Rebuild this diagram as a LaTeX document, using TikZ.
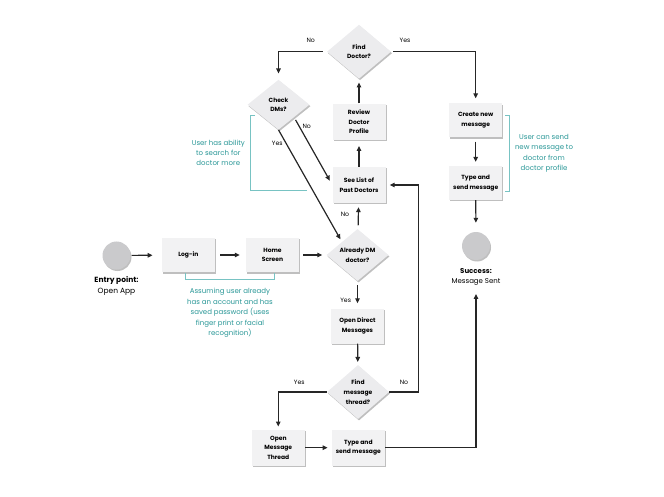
\documentclass[tikz,border=0pt]{standalone}
\usepackage{fontspec}
\setmainfont{Poppins}
\usetikzlibrary{shapes.geometric,shadows,arrows.meta}
\definecolor{tealtxt}{RGB}{40,150,150}
\definecolor{tealln}{RGB}{120,195,195}
\definecolor{boxfill}{RGB}{242,242,243}
\definecolor{diafill}{RGB}{236,236,238}
\definecolor{circfill}{RGB}{202,202,204}
\tikzset{
  shd/.style={drop shadow={shadow xshift=1pt,shadow yshift=-1.5pt,opacity=0.25,fill=black}},
  stepbox/.style={rectangle,fill=boxfill,shd,minimum width=53pt,minimum height=35pt,inner sep=1pt,align=center,font=\fontsize{6}{9.7}\selectfont\bfseries},
  decide/.style={diamond,fill=diafill,shd,minimum width=62pt,minimum height=52pt,inner sep=0pt,align=center,font=\fontsize{6}{9.7}\selectfont\bfseries},
  term/.style={circle,fill=circfill,shd,minimum size=28pt,inner sep=0pt},
  flow/.style={-{Triangle[length=5pt,width=4.5pt]},line width=1.2pt,black!85},
  lbl/.style={font=\fontsize{6.2}{8}\selectfont,inner sep=0pt},
  note/.style={text=tealtxt,align=center,inner sep=0pt},
  brk/.style={draw=tealln,line width=0.8pt}
}
\begin{document}
\begin{tikzpicture}[x=1pt,y=-1pt]
\useasboundingbox (0,0) rectangle (664,497);
% nodes
\node[term] (entry) at (116.5,255.5) {};
\node[align=center,inner sep=0pt,font=\fontsize{7.5}{10.7}\selectfont] (entrylbl) at (116.5,286) {\textbf{Entry point:}\\Open App};
\node[stepbox,minimum height=34pt] (login) at (188.3,255) {Log-in};
\node[stepbox,minimum height=34pt] (home) at (272.5,255) {Home\\Screen};
\node[decide] (already) at (357.5,255) {Already DM\\doctor?};
\node[stepbox,minimum height=36pt] (seelist) at (359,185) {See List of\\Past Doctors};
\node[stepbox,minimum height=36pt] (review) at (359,121.7) {Review\\Doctor\\Profile};
\node[decide,minimum width=64pt,minimum height=54pt] (finddoc) at (359,51.7) {Find\\Doctor?};
\node[decide,minimum height=50pt] (checkdm) at (278.5,104.7) {Check\\DMs?};
\node[stepbox,minimum height=34pt] (create) at (475.7,120.5) {Create new\\message};
\node[stepbox,minimum height=34pt] (typer) at (475.7,183) {Type and\\send message};
\node[term] (success) at (476,246) {};
\node[align=center,inner sep=0pt,font=\fontsize{7}{10}\selectfont] (successlbl) at (476,277.3) {\textbf{Success:}\\Message Sent};
\node[stepbox] (opendm) at (357.5,326) {Open Direct\\Messages};
\node[decide,minimum height=54pt] (findthread) at (358,392) {Find\\message\\thread?};
\node[stepbox,minimum height=36pt] (openthread) at (278.3,447.7) {Open\\Message\\Thread};
\node[stepbox,minimum height=36pt] (typeb) at (358.3,447.7) {Type and\\send message};
% connectors
\draw[flow,shorten <=1pt,shorten >=9pt] (entry) -- (login);
\draw[flow,shorten <=5pt,shorten >=6pt] (login) -- (home);
\draw[flow,shorten <=4pt,shorten >=4pt] (home) -- (already);
\draw[flow,shorten <=4pt,shorten >=4pt] (already) -- (seelist);
\draw[flow,shorten <=4pt,shorten >=5pt] (already) -- (opendm);
\draw[flow,shorten <=0pt,shorten >=6pt] (seelist) -- (review);
\draw[flow,shorten <=0pt,shorten >=3.5pt] (review) -- (finddoc);
\draw[flow,shorten <=4pt,shorten >=6pt] (finddoc.west) -| (checkdm.north);
\draw[flow,shorten <=2pt,shorten >=5pt] (finddoc.east) -| (create.north);
\draw[flow,shorten <=4pt,shorten >=4pt] (create) -- (typer);
\draw[flow,shorten <=0pt,shorten >=9pt] (typer) -- (success);
\draw[flow,shorten <=3pt,shorten >=5pt] (checkdm.south east) -- (seelist.west);
\draw[flow,shorten <=0pt,shorten >=3pt] (checkdm.south) -- (already.north west);
\draw[flow,shorten <=0pt,shorten >=3pt] (opendm) -- (findthread);
\draw[flow,shorten <=0pt,shorten >=3pt] (findthread.west) -| (openthread.north);
\draw[flow,shorten <=0pt,shorten >=4pt] (findthread.east) -- ++(29,0) |- (seelist.east);
\draw[flow,shorten <=0pt,shorten >=4pt] (openthread) -- (typeb);
\draw[flow,shorten <=0pt,shorten >=8pt] (typeb.east) -| (successlbl.south);
% branch labels
\node[lbl] (l1) at (310.7,40.7) {No};
\node[lbl] (l2) at (405,40.7) {Yes};
\node[lbl] (l3) at (306.7,126) {No};
\node[lbl] (l4) at (277.3,143.3) {Yes};
\node[lbl] (l5) at (345,214) {No};
\node[lbl] (l6) at (345.7,300.7) {Yes};
\node[lbl] (l7) at (299.3,382.3) {Yes};
\node[lbl] (l8) at (404,382.3) {No};
% annotations
\node[note,font=\fontsize{7}{10}\selectfont] (n1) at (218.3,153.3) {User has ability\\to search for\\doctor more};
\node[note,font=\fontsize{7}{10.5}\selectfont] (n2) at (230,313) {Assuming user already\\has an account and has\\saved password (uses\\finger print or facial\\recognition)};
\node[note,font=\fontsize{7}{10.4}\selectfont] (n3) at (544,153.3) {User can send\\new message to\\doctor from\\doctor profile};
\draw[brk] (255,115.7) -- (250.3,115.7) -- (250.3,190.7) -- (307.3,190.7);
\draw[brk] (185.7,272.7) -- (185.7,279) -- (274.3,279) -- (274.3,272.7);
\draw[brk] (505,115.7) -- (509.3,115.7) -- (509.3,191) -- (505,191);
\end{tikzpicture}
\end{document}
